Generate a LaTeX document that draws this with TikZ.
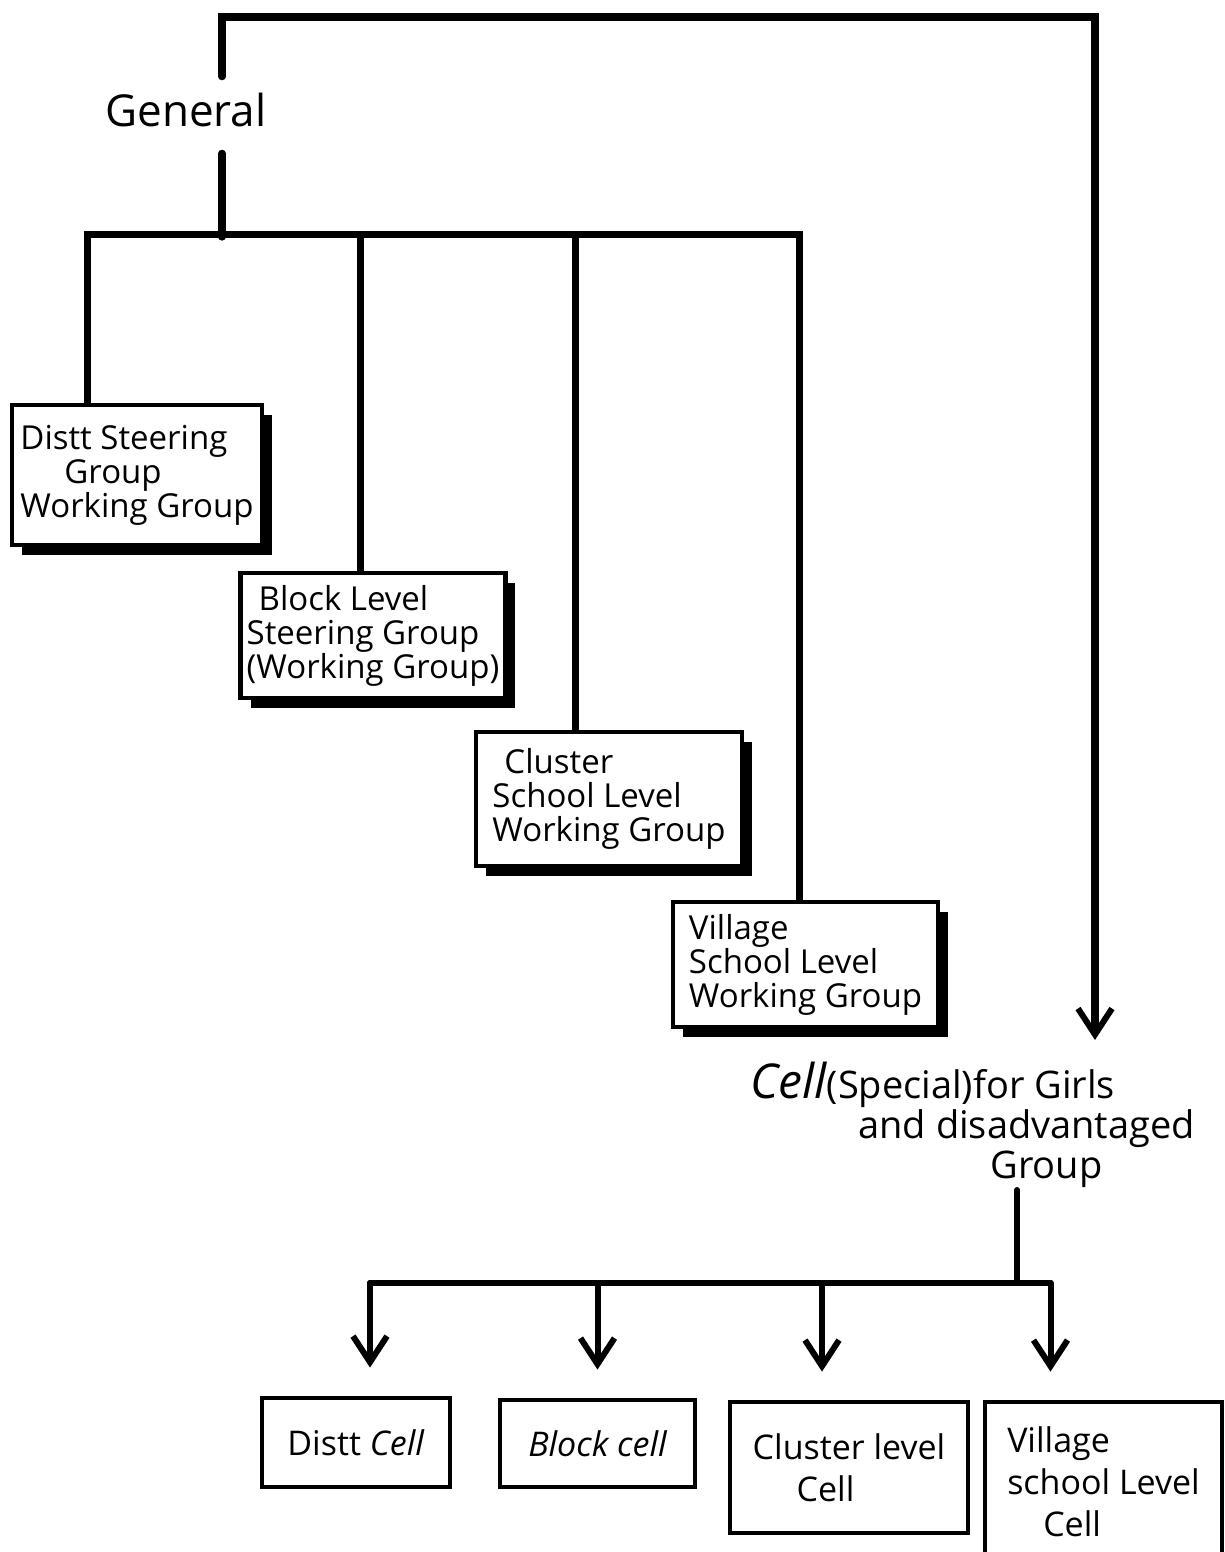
\documentclass[tikz,border=0pt]{standalone}
\usepackage{fontspec}
\setmainfont{Open Sans}
\usetikzlibrary{arrows.meta,shadows,calc}

\tikzset{
  wire/.style={line width=3.6pt, line cap=round, line join=miter},
  thinwire/.style={line width=3pt, line cap=round},
  tip/.style={-{Straight Barb[length=13pt,width=17pt,line width=3pt]}},
  groupbox/.style={draw, line width=2.2pt, fill=white, align=left,
    inner sep=3pt, font=\fontsize{16.5}{17}\selectfont,
    drop shadow={shadow xshift=5pt, shadow yshift=-5pt, opacity=1, fill=black}},
  cellbox/.style={draw, line width=2.4pt, fill=white, align=left,
    inner sep=3pt, font=\fontsize{17}{21}\selectfont},
  plain/.style={inner sep=0pt, align=left}
}

\begin{document}
\begin{tikzpicture}[x=0.5pt, y=-0.5pt]
  \useasboundingbox (0,0) rectangle (1225,1552);

  % headings
  \node[plain, font=\fontsize{22}{24}\selectfont] (gen) at (186,110) {General};
  \node[plain, anchor=north west, font=\fontsize{19}{20}\selectfont] (cell) at (750,1062)
    {{\fontsize{24}{24}\selectfont\itshape Cell}(Special)for Girls\\
     \hspace*{54pt}and disadvantaged\\
     \hspace*{120pt}Group};

  % working groups
  \node[groupbox, minimum width=125pt, minimum height=70pt] (g1) at (137,475)
    {Distt Steering\\\hspace*{22pt}Group\\Working Group};
  \node[groupbox, minimum width=130pt, minimum height=62.5pt] (g2) at (373,635.5)
    {\hspace*{6pt}Block Level\\Steering Group\\(Working Group)};
  \node[groupbox, minimum width=133pt, minimum height=67pt] (g3) at (609,799)
    {\hspace*{6pt}Cluster\\School Level\\Working Group};
  \node[groupbox, minimum width=132.5pt, minimum height=62.5pt] (g4) at (805.5,964.5)
    {Village\\School Level\\Working Group};

  % cells
  \node[cellbox, minimum width=94pt, minimum height=44.5pt] (c1) at (356,1442.5)
    {Distt \textit{Cell}};
  \node[cellbox, minimum width=97.5pt, minimum height=43.5pt] (c2) at (597.5,1443.5)
    {\itshape Block cell};
  \node[cellbox, minimum width=119pt, minimum height=65.5pt] (c3) at (849,1467.5)
    {Cluster level\\\hspace*{22pt}Cell};
  \node[cellbox, minimum width=118.5pt, minimum height=80pt] (c4) at (1103.5,1482)
    {Village\\school Level\\\hspace*{18pt}Cell};

  % connector points
  \coordinate (gtop) at ($(gen.north)+(36,-16)$);
  \coordinate (gbot) at ($(gen.south)+(36,26)$);
  \coordinate (cin)  at (1095,1040);
  \coordinate (cbot) at (1017,1190);
  \coordinate (busy) at (0,1283);
  \foreach \c/\dx in {c1/14, c2/0, c3/-27, c4/-53} {
    \coordinate (\c in)  at ($(\c.north)+(\dx,-28)$);
    \coordinate (\c bus) at (\c in |- busy);
  }

  % general branch
  \draw[wire] (gbot) -- (gbot |- 0,237);
  \draw[wire] ($(g1.north west)+(78,0)$) -- ++(0,-168) -| ($(g4.north west)+(129,0)$);
  \draw[wire] ($(g2.north west)+(122,0)$) -- ++(0,-336);
  \draw[wire] ($(g3.north west)+(102,0)$) -- ++(0,-495);

  % link to the special cell
  \draw[wire, tip] (gtop) -- (gtop |- 0,17) -| (cin);

  % special cell branch
  \draw[thinwire] (cbot) -- (cbot |- busy);
  \draw[thinwire] (c1bus) -- (c4bus);
  \foreach \c in {c1, c2, c3, c4}
    \draw[thinwire, tip] (\c bus) -- (\c in);
\end{tikzpicture}
\end{document}
